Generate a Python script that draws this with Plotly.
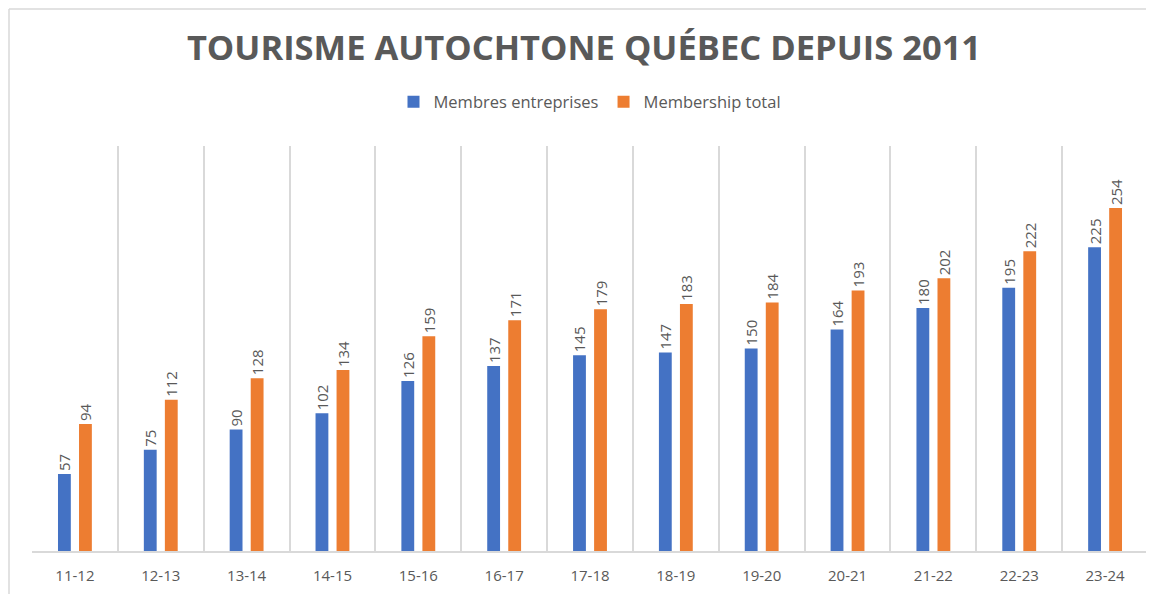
import plotly.graph_objects as go

categories = ["11-12", "12-13", "13-14", "14-15", "15-16", "16-17", "17-18",
              "18-19", "19-20", "20-21", "21-22", "22-23", "23-24"]
membres_entreprises = [57, 75, 90, 102, 126, 137, 145, 147, 150, 164, 180, 195, 225]
membership_total = [94, 112, 128, 134, 159, 171, 179, 183, 184, 193, 202, 222, 254]

# page body has an 8px margin; size the figure so it fits inside the window
OFF = 8
W, H = 1154 - OFF, 594 - OFF
L, R, T, B = 32 - OFF, 6, 146 - OFF, 43
pw, ph = W - L - R, H - T - B

txt = "#595959"
font = "Open Sans"

fig = go.Figure()
fig.add_trace(go.Bar(
    x=categories, y=membres_entreprises, name="Membres entreprises",
    marker=dict(color="#4472C4", line=dict(width=0)),
    text=membres_entreprises, textposition="outside", textangle=-90,
    constraintext="none", cliponaxis=False,
    textfont=dict(family=font, size=15, color=txt),
))
fig.add_trace(go.Bar(
    x=categories, y=membership_total, name="Membership total",
    marker=dict(color="#ED7D31", line=dict(width=0)),
    text=membership_total, textposition="outside", textangle=-90,
    constraintext="none", cliponaxis=False,
    textfont=dict(family=font, size=15, color=txt),
))

# outer frame: top and left edges only
x_left = (1 - L) / pw
y_top = (ph + T - 1) / ph
fig.add_shape(type="line", xref="paper", yref="paper",
              x0=x_left, x1=(W + 10 - L) / pw, y0=y_top, y1=y_top,
              line=dict(color="#d9d9d9", width=1.5), layer="below")
fig.add_shape(type="line", xref="paper", yref="paper",
              x0=x_left, x1=x_left, y0=-(B + 10) / ph, y1=y_top,
              line=dict(color="#d9d9d9", width=1.5), layer="below")

fig.update_layout(
    width=W, height=H,
    margin=dict(l=L, r=R, t=T, b=B),
    paper_bgcolor="white", plot_bgcolor="white",
    barmode="group", bargap=0.51, bargroupgap=0.39,
    title=dict(text="<b>TOURISME AUTOCHTONE QUÉBEC DEPUIS 2011</b>",
               x=(584 - OFF) / W, xanchor="center", y=1 - (48 - OFF) / H, yanchor="middle",
               font=dict(family=font, size=34.5, color=txt)),
    legend=dict(orientation="h", x=0.5, xanchor="center",
                y=(H - B - (102 - OFF)) / ph, yanchor="middle",
                font=dict(family=font, size=16.5, color=txt),
                itemsizing="constant"),
    xaxis=dict(type="category", showgrid=True, gridcolor="#d9d9d9", gridwidth=1.5,
               tickson="boundaries", ticks="", showline=True, linecolor="#d9d9d9",
               linewidth=2, tickfont=dict(family=font, size=15, color=txt),
               ticklabelstandoff=10,
               range=[-0.5, len(categories) - 0.5]),
    yaxis=dict(range=[0, 300], showgrid=False, showticklabels=False,
               zeroline=False, showline=False),
)

fig.write_html("out.html", config={"displayModeBar": False})
